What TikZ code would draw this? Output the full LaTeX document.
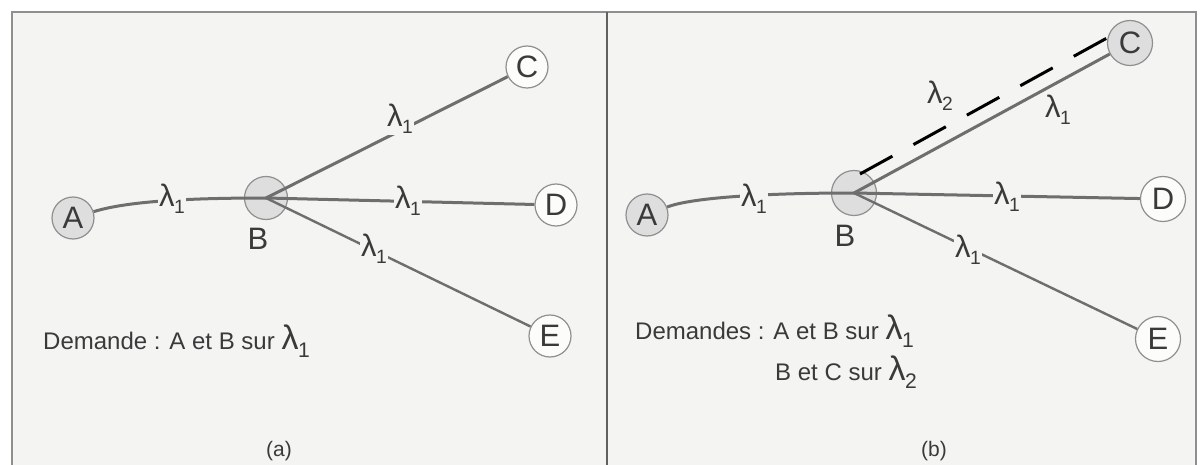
\documentclass[tikz,border=0pt]{standalone}
\usepackage{fontspec}
\setmainfont{Liberation Sans}
\definecolor{bgc}{HTML}{F4F4F2}
\definecolor{framec}{HTML}{8F8F8F}
\definecolor{linkc}{HTML}{6E6E6E}
\definecolor{inkc}{HTML}{3A3A3A}
\definecolor{nodeg}{HTML}{DEDEDE}
\newcommand{\lam}[1]{λ\kern-0.5pt\raisebox{-0.22em}{\scalebox{0.62}{#1}}}
\tikzset{
  x=1pt,y=-1pt,
  every node/.style={text=inkc},
  nodebox/.style={circle,draw=framec,line width=1.2pt,minimum size=42pt,inner sep=0pt,font=\fontsize{31}{31}\selectfont,fill=white!70!bgc},
  nodegray/.style={nodebox,fill=nodeg},
  link/.style={draw=linkc,line width=3pt},
  linkthin/.style={draw=linkc,line width=2.4pt},
  lab/.style={fill=bgc,inner sep=1pt,font=\fontsize{31}{31}\selectfont},
  labfree/.style={inner sep=1pt,font=\fontsize{31}{31}\selectfont},
  txt/.style={inner sep=0pt,font=\fontsize{24}{24}\selectfont,anchor=west},
  captxt/.style={inner sep=0pt,font=\fontsize{21}{21}\selectfont},
  panel/.style={draw=framec,line width=1.4pt,fill=bgc},
}
\begin{document}
\begin{tikzpicture}
\useasboundingbox (0,0) rectangle (1201,465);
\fill[white] (0,0) rectangle (1201,465);
\path[panel] (12,12) rectangle (607,470);
\path[panel] (607,12) rectangle (1196,470);
\draw[draw=inkc!80,line width=2.6pt] (607,12) -- (607,465);

% panel (a)
\node[nodegray] (a1) at (73,218) {A};
\node[nodegray,minimum size=43pt] (b1) at (266,198) {};
\node[font=\fontsize{31}{31}\selectfont,inner sep=0pt] (bl1) at (258,239) {B};
\node[nodebox] (c1) at (527,67) {C};
\node[nodebox] (d1) at (556,205) {D};
\node[nodebox] (e1) at (550,336) {E};
\path[link] (a1) .. controls (125,202) and (180,198) .. (b1.center);
\path[link] (b1.center) -- (c1);
\path[link] (b1.center) -- (d1);
\path[linkthin] (b1.center) -- (e1);
\node[lab] (l1a) at (172,199) {\lam{1}};
\node[lab] (l1c) at (400,119) {\lam{1}};
\node[lab] (l1d) at (408,201) {\lam{1}};
\node[lab] (l1e) at (374,249) {\lam{1}};
\node[txt] (t1) at (43,341) {Demande : A et B sur {\fontsize{34}{34}\selectfont\lam{1}}};
\node[captxt] (cap1) at (279,451) {(a)};

% panel (b)
\node[nodegray] (a2) at (647,215) {A};
\node[nodegray,minimum size=45pt] (b2) at (854,193) {};
\node[font=\fontsize{31}{31}\selectfont,inner sep=0pt] (bl2) at (845,236) {B};
\node[nodegray,minimum size=45pt] (c2) at (1130,43) {C};
\node[nodebox,minimum size=45pt] (d2) at (1163,199) {D};
\node[nodebox,minimum size=45pt] (e2) at (1158,339) {E};
\coordinate (bs) at (860,174);
\coordinate (cs) at (1107,38);
\path[link] (a2) .. controls (690,198) and (760,193) .. (b2.center);
\path[link] (b2.center) -- (c2);
\path[link] (b2.center) -- (d2);
\path[linkthin] (b2.center) -- (e2);
\draw[black,line width=3pt,dash pattern=on 37pt off 24pt] (bs) -- (cs);
\node[lab] (l2a) at (754,199) {\lam{1}};
\node[lab] (l2d) at (1007,197) {\lam{1}};
\node[lab] (l2e) at (968,250) {\lam{1}};
\node[labfree] (l2c) at (1058,110) {\lam{1}};
\node[labfree] (l2b) at (940,96) {\lam{2}};
\node[txt] (t2) at (635,331) {Demandes : A et B sur {\fontsize{34}{34}\selectfont\lam{1}}};
\node[txt] (t3) at (775,372) {B et C sur {\fontsize{34}{34}\selectfont\lam{2}}};
\node[captxt] (cap2) at (934,451) {(b)};
\end{tikzpicture}
\end{document}
